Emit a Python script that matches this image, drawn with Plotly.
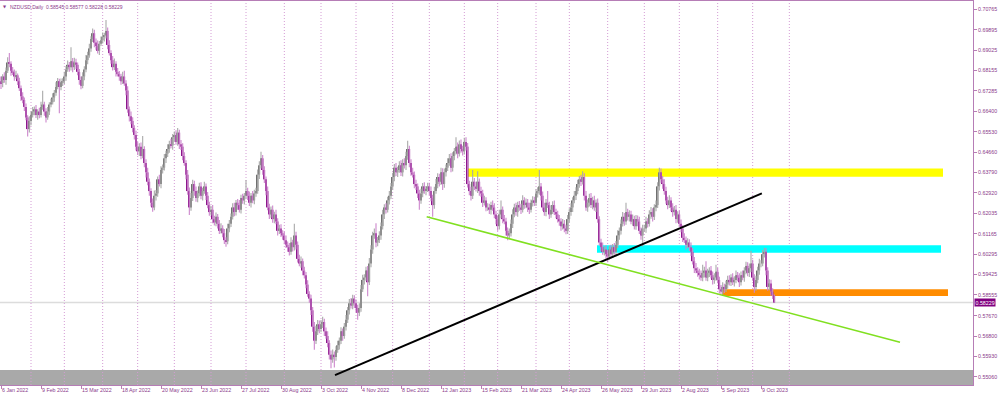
import pandas as pd
import plotly.graph_objects as go

symbol = "NZDUSD"
timeframe = "Daily"

# ---- daily closes in pips (price * 10000) ----
first_open = 6800
c_2022_01 = [6790, 6770, 6762, 6790, 6775, 6815, 6850, 6845, 6815, 6808, 6790, 6795, 6770, 6740, 6705, 6690, 6660, 6615, 6565, 6600]
c_2022_02 = [6625, 6640, 6650, 6625, 6640, 6625, 6660, 6670, 6640, 6615, 6640, 6670, 6680, 6700, 6720, 6745, 6770, 6745, 6765, 6770]
c_2022_03 = [6790, 6820, 6840, 6830, 6855, 6830, 6850, 6840, 6810, 6775, 6750, 6790, 6820, 6860, 6880, 6910, 6950, 6975, 6935, 6920, 6900, 6930, 6945]
c_2022_04 = [6960, 6965, 6985, 6925, 6890, 6860, 6830, 6845, 6810, 6800, 6790, 6770, 6790, 6760, 6730, 6650, 6620, 6600, 6570, 6540, 6490]
c_2022_05 = [6470, 6490, 6450, 6480, 6420, 6380, 6340, 6300, 6250, 6230, 6280, 6290, 6350, 6330, 6390, 6400, 6440, 6460, 6480, 6500, 6495, 6530]
c_2022_06 = [6540, 6510, 6550, 6500, 6490, 6450, 6420, 6370, 6300, 6230, 6270, 6330, 6300, 6270, 6290, 6320, 6280, 6300, 6320, 6280, 6240, 6210]
c_2022_07 = [6220, 6180, 6165, 6190, 6160, 6130, 6140, 6120, 6090, 6085, 6140, 6160, 6190, 6230, 6210, 6250, 6240, 6220, 6270, 6260, 6280]
c_2022_08 = [6300, 6280, 6250, 6280, 6260, 6290, 6300, 6370, 6410, 6440, 6390, 6350, 6300, 6230, 6200, 6220, 6180, 6200, 6170, 6130, 6140, 6120, 6110]
c_2022_09 = [6090, 6070, 6060, 6040, 6080, 6060, 6110, 6070, 6010, 5990, 6000, 5960, 5940, 5900, 5860, 5840, 5790, 5720, 5660, 5700, 5730, 5710]
c_2022_10 = [5730, 5740, 5700, 5680, 5650, 5600, 5580, 5600, 5590, 5620, 5640, 5660, 5700, 5680, 5720, 5750, 5790, 5820, 5810, 5840, 5820]
c_2022_11 = [5800, 5780, 5800, 5880, 5920, 5930, 5960, 5910, 5990, 6050, 6110, 6120, 6080, 6090, 6110, 6150, 6200, 6230, 6220, 6260, 6280, 6320]
c_2022_12 = [6360, 6400, 6380, 6390, 6410, 6380, 6420, 6410, 6450, 6480, 6420, 6380, 6370, 6330, 6320, 6290, 6260, 6290, 6320, 6300, 6310, 6320]
c_2023_01 = [6300, 6270, 6240, 6300, 6330, 6360, 6340, 6380, 6330, 6380, 6400, 6420, 6440, 6400, 6450, 6470, 6490, 6460, 6500, 6480, 6470]
c_2023_02 = [6510, 6490, 6330, 6300, 6280, 6340, 6320, 6310, 6340, 6300, 6290, 6250, 6260, 6230, 6230, 6220, 6240, 6230, 6200, 6180]
c_2023_03 = [6150, 6200, 6220, 6180, 6170, 6130, 6110, 6120, 6160, 6200, 6230, 6210, 6240, 6230, 6220, 6260, 6240, 6250, 6230, 6220, 6250, 6260, 6250]
c_2023_04 = [6290, 6300, 6320, 6280, 6230, 6210, 6250, 6240, 6200, 6220, 6240, 6210, 6200, 6180, 6170, 6150, 6160, 6140, 6130, 6180]
c_2023_05 = [6210, 6230, 6260, 6280, 6300, 6330, 6350, 6340, 6360, 6280, 6230, 6250, 6270, 6240, 6260, 6230, 6250, 6180, 6080, 6060, 6040, 6050, 6030]
c_2023_06 = [6020, 6050, 6030, 6060, 6040, 6070, 6110, 6130, 6160, 6190, 6170, 6210, 6190, 6200, 6170, 6180, 6150, 6180, 6170, 6130, 6110, 6140]
c_2023_07 = [6140, 6170, 6160, 6200, 6210, 6190, 6230, 6240, 6320, 6380, 6350, 6330, 6300, 6260, 6240, 6260, 6230, 6210, 6220, 6180, 6200]
c_2023_08 = [6160, 6140, 6100, 6090, 6070, 6080, 6060, 6040, 6000, 5970, 5960, 5950, 5940, 5930, 5950, 5960, 5930, 5950, 5960, 5940, 5920, 5930, 5955]
c_2023_09 = [5920, 5880, 5870, 5890, 5880, 5900, 5920, 5910, 5930, 5910, 5920, 5940, 5930, 5910, 5940, 5930, 5960, 5980, 5950, 5970, 5990]
c_2023_10 = [5930, 5890, 5920, 5960, 5990, 5990, 6030, 6040, 5960, 5890, 5905, 5870, 5854.5, 5822.9]

# ---- upper / lower shadow lengths in pips ----
u_2022_01 = [12, 15, 20, 10, 18, 14, 22, 40, 10, 16, 12, 20, 8, 15, 12, 18, 10, 14, 9, 20]
d_2022_01 = [14, 10, 25, 18, 12, 20, 10, 15, 22, 12, 18, 10, 16, 12, 20, 14, 18, 12, 32, 15]
u_2022_02 = [15, 20, 12, 18, 10, 16, 22, 59, 12, 14, 20, 10, 15, 18, 12, 20, 14, 10, 16, 12]
d_2022_02 = [18, 10, 16, 12, 20, 14, 10, 12, 18, 22, 10, 15, 12, 10, 18, 12, 10, 112, 14, 16]
u_2022_03 = [20, 15, 18, 12, 60, 14, 20, 16, 10, 12, 15, 18, 14, 22, 16, 20, 12, 20, 15, 18, 24, 12, 16]
d_2022_03 = [12, 18, 10, 20, 14, 22, 12, 18, 15, 20, 15, 10, 16, 12, 18, 10, 14, 12, 20, 16, 12, 18, 10]
u_2022_04 = [18, 12, 47, 15, 20, 12, 18, 22, 10, 16, 14, 12, 20, 25, 14, 18, 12, 20, 16, 12, 18]
d_2022_04 = [14, 20, 12, 18, 10, 16, 14, 12, 20, 10, 18, 15, 12, 10, 20, 15, 22, 14, 18, 20, 16]
u_2022_05 = [20, 15, 18, 55, 12, 16, 20, 14, 12, 18, 22, 15, 12, 20, 16, 14, 18, 12, 20, 15, 24, 14]
d_2022_05 = [16, 20, 14, 10, 18, 22, 15, 20, 16, 18, 12, 20, 14, 10, 18, 15, 12, 20, 14, 16, 12, 18]
u_2022_06 = [15, 20, 20, 12, 18, 14, 16, 12, 20, 15, 22, 18, 14, 20, 12, 16, 18, 14, 20, 12, 16, 14]
d_2022_06 = [18, 12, 16, 20, 14, 18, 12, 20, 16, 32, 14, 12, 20, 16, 18, 12, 15, 20, 12, 18, 14, 16]
u_2022_07 = [16, 20, 14, 18, 12, 16, 22, 14, 18, 12, 20, 16, 14, 18, 20, 12, 16, 22, 14, 18, 12]
d_2022_07 = [14, 18, 12, 16, 20, 14, 12, 18, 16, 23, 12, 16, 14, 12, 18, 15, 20, 12, 16, 14, 18]
u_2022_08 = [47, 14, 18, 12, 20, 16, 14, 22, 18, 28, 14, 16, 12, 20, 16, 14, 18, 12, 20, 14, 16, 18, 12]
d_2022_08 = [12, 18, 14, 20, 12, 16, 14, 12, 18, 14, 20, 16, 18, 12, 20, 14, 16, 18, 12, 20, 14, 16, 18]
u_2022_09 = [16, 20, 14, 18, 22, 12, 50, 16, 14, 18, 20, 12, 16, 14, 18, 12, 16, 14, 20, 24, 18, 16]
d_2022_09 = [18, 14, 20, 16, 12, 18, 14, 20, 16, 12, 18, 20, 14, 16, 12, 18, 20, 22, 39, 14, 16, 18]
u_2022_10 = [18, 22, 14, 16, 20, 12, 18, 22, 14, 16, 20, 14, 18, 12, 16, 20, 14, 18, 22, 16, 14]
d_2022_10 = [14, 16, 20, 12, 18, 20, 38, 14, 45, 16, 12, 18, 14, 20, 12, 16, 14, 18, 12, 16, 20]
u_2022_11 = [16, 14, 20, 18, 22, 14, 16, 20, 24, 18, 16, 20, 42, 14, 18, 16, 20, 14, 18, 16, 20, 14]
d_2022_11 = [18, 30, 14, 16, 12, 20, 14, 60, 12, 16, 18, 14, 20, 16, 12, 18, 14, 20, 16, 12, 18, 14]
u_2022_12 = [18, 16, 20, 14, 18, 22, 16, 20, 18, 35, 14, 16, 20, 14, 18, 12, 16, 20, 14, 18, 12, 16]
d_2022_12 = [14, 18, 16, 20, 12, 16, 18, 14, 20, 16, 18, 14, 12, 18, 16, 20, 40, 14, 16, 12, 18, 14]
u_2023_01 = [16, 20, 14, 18, 22, 16, 14, 20, 18, 16, 14, 20, 18, 22, 16, 14, 40, 18, 16, 20, 14]
d_2023_01 = [18, 14, 50, 16, 12, 18, 20, 14, 25, 16, 18, 14, 12, 20, 16, 18, 14, 20, 12, 16, 18]
u_2023_02 = [18, 20, 16, 14, 18, 50, 16, 20, 45, 14, 18, 16, 20, 14, 18, 16, 14, 20, 18, 16]
d_2023_02 = [14, 16, 15, 18, 20, 14, 16, 12, 18, 20, 14, 18, 12, 16, 14, 18, 20, 14, 16, 22]
u_2023_03 = [16, 20, 40, 14, 18, 16, 14, 20, 18, 22, 16, 20, 14, 18, 16, 22, 14, 18, 16, 20, 14, 18, 16]
d_2023_03 = [20, 14, 16, 18, 12, 20, 20, 16, 14, 18, 12, 16, 20, 14, 18, 12, 16, 14, 20, 18, 12, 16, 14]
u_2023_04 = [18, 16, 70, 14, 18, 20, 16, 50, 14, 18, 16, 20, 14, 16, 18, 14, 20, 16, 14, 18]
d_2023_04 = [14, 18, 16, 20, 14, 16, 18, 12, 20, 14, 18, 12, 16, 14, 18, 20, 14, 16, 15, 14]
u_2023_05 = [16, 18, 14, 20, 16, 18, 14, 20, 25, 16, 20, 14, 18, 22, 16, 20, 14, 18, 12, 16, 20, 14, 18]
d_2023_05 = [14, 16, 20, 12, 18, 14, 16, 18, 12, 20, 14, 18, 16, 12, 18, 14, 20, 16, 14, 18, 12, 16, 20]
u_2023_06 = [18, 16, 20, 14, 18, 16, 22, 14, 18, 20, 16, 40, 14, 18, 16, 20, 14, 18, 16, 20, 14, 16]
d_2023_06 = [25, 14, 18, 16, 12, 20, 14, 18, 16, 12, 18, 14, 16, 20, 12, 18, 14, 16, 20, 14, 18, 47]
u_2023_07 = [16, 20, 14, 18, 22, 16, 14, 20, 18, 20, 16, 14, 20, 18, 16, 22, 14, 18, 16, 20, 14]
d_2023_07 = [14, 18, 16, 12, 18, 20, 14, 16, 12, 18, 14, 20, 16, 14, 18, 12, 16, 20, 14, 18, 16]
u_2023_08 = [16, 18, 14, 20, 16, 18, 14, 20, 16, 18, 22, 14, 18, 20, 35, 16, 40, 18, 14, 20, 16, 18, 30]
d_2023_08 = [14, 16, 18, 12, 20, 14, 16, 18, 14, 20, 12, 16, 18, 14, 16, 20, 14, 16, 18, 14, 20, 16, 14]
u_2023_09 = [16, 14, 18, 20, 14, 16, 18, 20, 14, 18, 16, 20, 14, 18, 16, 20, 14, 18, 16, 20, 55]
d_2023_09 = [14, 18, 12, 14, 16, 12, 18, 14, 16, 12, 18, 14, 16, 20, 14, 12, 18, 16, 14, 18, 16]
u_2023_10 = [16, 14, 18, 16, 20, 14, 18, 18, 16, 14, 18, 16, 14, 3.2]
d_2023_10 = [14, 25, 16, 14, 18, 16, 12, 14, 20, 16, 14, 18, 16, 0.1]

# broker had no bar on this day
skipped_days = ["2023-01-02"]

# price-scale labels
price_ticks = [0.70765, 0.69895, 0.69025, 0.68155, 0.67285, 0.66400, 0.65530, 0.64660, 0.63790,
               0.62920, 0.62035, 0.61165, 0.60295, 0.59425, 0.58555, 0.57670, 0.56800, 0.55930, 0.55060]

# drawn objects (bar index, price)
black_line_idx = [202.4, 458.5]
black_line_price = [0.5513, 0.6290]
green_line_idx = [257.4, 541.4]
green_line_price = [0.6190, 0.5653]
zone_names = ["resistance", "mid", "support"]
zone_start = [282.2, 359.6, 434.6]
zone_end = [567.2, 566.0, 570.2]
zone_low = [0.6361, 0.6036, 0.5851]
zone_high = [0.6396, 0.6068, 0.5880]
floor_zone_top = 0.5535

# ---------------------------------------------------------------
months_c = [c_2022_01, c_2022_02, c_2022_03, c_2022_04, c_2022_05, c_2022_06, c_2022_07, c_2022_08,
            c_2022_09, c_2022_10, c_2022_11, c_2022_12, c_2023_01, c_2023_02, c_2023_03, c_2023_04,
            c_2023_05, c_2023_06, c_2023_07, c_2023_08, c_2023_09, c_2023_10]
months_u = [u_2022_01, u_2022_02, u_2022_03, u_2022_04, u_2022_05, u_2022_06, u_2022_07, u_2022_08,
            u_2022_09, u_2022_10, u_2022_11, u_2022_12, u_2023_01, u_2023_02, u_2023_03, u_2023_04,
            u_2023_05, u_2023_06, u_2023_07, u_2023_08, u_2023_09, u_2023_10]
months_d = [d_2022_01, d_2022_02, d_2022_03, d_2022_04, d_2022_05, d_2022_06, d_2022_07, d_2022_08,
            d_2022_09, d_2022_10, d_2022_11, d_2022_12, d_2023_01, d_2023_02, d_2023_03, d_2023_04,
            d_2023_05, d_2023_06, d_2023_07, d_2023_08, d_2023_09, d_2023_10]
close_p = [v for m in months_c for v in m]
up_p = [v for m in months_u for v in m]
dn_p = [v for m in months_d for v in m]

skip = set(pd.to_datetime(skipped_days))
dates = [d for d in pd.bdate_range("2022-01-04", "2023-10-19") if d not in skip]
n = len(dates)
assert len(close_p) == n and len(up_p) == n and len(dn_p) == n, (len(close_p), len(up_p), len(dn_p), n)

open_p = [first_open] + close_p[:-1]
high_p = [max(o, c) + u for o, c, u in zip(open_p, close_p, up_p)]
low_p = [min(o, c) - d for o, c, d in zip(open_p, close_p, dn_p)]
O = [v / 10000 for v in open_p]
H = [v / 10000 for v in high_p]
L = [v / 10000 for v in low_p]
C = [v / 10000 for v in close_p]
idx = list(range(n))

txt = "#8b3a8b"
axis_col = "#b67db6"
grid_col = "#d49cd4"

fig = go.Figure()

# shadows
for bull, col in [(True, "#a9a9a9"), (False, "#cc86cc")]:
    xs, ys = [], []
    for i in idx:
        if (C[i] >= O[i]) == bull:
            xs += [i, i, None]
            ys += [L[i], H[i], None]
    fig.add_trace(go.Scatter(x=xs, y=ys, mode="lines", line=dict(color=col, width=1.1),
                             hoverinfo="skip", connectgaps=False))

# bodies
body_base = [min(o, c) for o, c in zip(O, C)]
body_len = [abs(c - o) for o, c in zip(O, C)]
body_col = ["#707070" if c >= o else "#8c168c" for o, c in zip(O, C)]
fig.add_trace(go.Bar(x=idx, y=body_len, base=body_base, width=0.95,
                     marker=dict(color=body_col, line=dict(width=0)), hoverinfo="skip"))

# trend lines
fig.add_trace(go.Scatter(x=black_line_idx, y=black_line_price, mode="lines",
                         line=dict(color="black", width=2), hoverinfo="skip"))
fig.add_trace(go.Scatter(x=green_line_idx, y=green_line_price, mode="lines",
                         line=dict(color="#80e020", width=1.6), hoverinfo="skip"))

shapes = []
# bottom grey zone
shapes.append(dict(type="rect", xref="paper", yref="y", x0=0, x1=1, y0=0.50, y1=floor_zone_top,
                   fillcolor="#a9a9a9", line=dict(width=0), layer="below"))
zone_cols = ["#ffff00", "#00ffff", "#ff8c00"]
for k in range(len(zone_names)):
    shapes.append(dict(type="rect", xref="x", yref="y", x0=zone_start[k], x1=zone_end[k],
                       y0=zone_low[k], y1=zone_high[k], fillcolor=zone_cols[k],
                       line=dict(width=0), layer="below"))
# current price line
shapes.append(dict(type="line", xref="paper", yref="y", x0=0, x1=1, y0=C[-1], y1=C[-1],
                   line=dict(color="#dcdcdc", width=1.5), layer="below"))
# month separators
future = pd.bdate_range(dates[-1] + pd.Timedelta(days=1), "2023-11-30")
all_days = list(dates) + list(future)
for i in range(1, len(all_days)):
    if all_days[i].month != all_days[i - 1].month:
        shapes.append(dict(type="line", xref="x", yref="paper", x0=i, x1=i, y0=0, y1=1,
                           line=dict(color=grid_col, width=1, dash="1px,2px"), layer="below"))

# date labels every 24 bars
label_idx = list(range(2, n, 24))
annotations = []
for i in label_idx:
    d = dates[i]
    annotations.append(dict(x=i, y=0, xref="x", yref="paper", xanchor="left", yanchor="top",
                            text=f"{d.day} {d.strftime('%b')} {d.year}", showarrow=False,
                            xshift=0, yshift=-1, borderpad=0,
                            font=dict(size=5.3, color=txt, family="Liberation Sans")))

fmt = lambda v: f"{v:.5f}"
header = f"{symbol},{timeframe}  {fmt(O[-1])} {fmt(H[-1])} {fmt(L[-1])} {fmt(C[-1])}"
annotations.append(dict(x=0, y=1, xref="paper", yref="paper", xanchor="left", yanchor="top",
                        text=header, showarrow=False, xshift=9, yshift=-1.5, borderpad=0,
                        font=dict(size=5, color=txt, family="Liberation Sans")))
annotations.append(dict(x=0, y=1, xref="paper", yref="paper", xanchor="left", yanchor="top",
                        text="▼", showarrow=False, xshift=1.5, yshift=-2, borderpad=0,
                        font=dict(size=4, color=txt, family="DejaVu Sans")))
# last price tag
annotations.append(dict(x=1, y=C[-1], xref="paper", yref="y", xanchor="left", yanchor="middle",
                        text=fmt(C[-1]), showarrow=False, xshift=1, borderpad=0.5,
                        bgcolor="#800080", font=dict(size=5.3, color="white", family="Liberation Sans")))

fig.update_layout(width=1000, height=395, margin=dict(l=0, r=27, t=1, b=10),
                  paper_bgcolor="white", plot_bgcolor="white", showlegend=False,
                  barmode="overlay", hovermode=False, shapes=shapes, annotations=annotations,
                  font=dict(family="Liberation Sans", size=5.3, color=txt))
fig.update_xaxes(range=[1.4, 585.2], showgrid=False, zeroline=False, showline=True,
                 linecolor=axis_col, linewidth=1, mirror=True, tickmode="array",
                 tickvals=label_idx, ticks="outside", ticklen=3, tickcolor=axis_col,
                 showticklabels=False, fixedrange=True)
fig.update_yaxes(side="right", range=[0.54705, 0.71129], tickmode="array", tickvals=price_ticks,
                 ticktext=[fmt(v) for v in price_ticks], ticks="outside", ticklen=3,
                 tickcolor=axis_col, showgrid=False, zeroline=False, showline=True,
                 linecolor=axis_col, linewidth=1, mirror=True,
                 tickfont=dict(size=5.3, color=txt, family="Liberation Sans"), fixedrange=True)

fig.write_html("out.html", config={"displayModeBar": False})
